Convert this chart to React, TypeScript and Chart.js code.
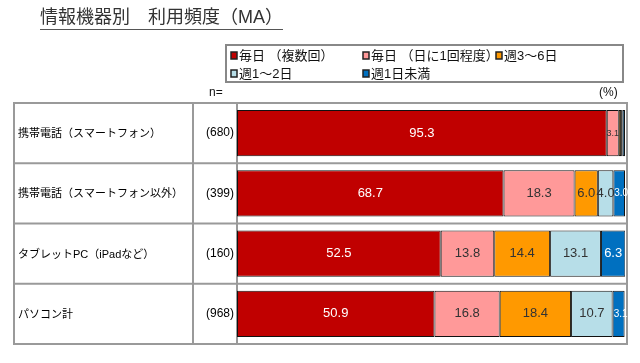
import React, { useEffect, useRef } from "react";
import { Chart, registerables } from "chart.js";

Chart.register(...registerables);

const titleText = "情報機器別　利用頻度（MA）";
const categories = [
  "携帯電話（スマートフォン）",
  "携帯電話（スマートフォン以外）",
  "タブレットPC（iPadなど）",
  "パソコン計",
];
const sampleSizes = ["(680)", "(399)", "(160)", "(968)"];
const seriesNames = ["毎日 （複数回）", "毎日 （日に1回程度）", "週3～6日", "週1～2日", "週1日未満"];
const dailyMulti = [95.3, 68.7, 52.5, 50.9];
const dailyOnce = [3.1, 18.3, 13.8, 16.8];
const week3to6 = [0.6, 6.0, 14.4, 18.4];
const week1to2 = [0.4, 4.0, 13.1, 10.7];
const lessWeekly = [0.6, 3.0, 6.3, 3.1];
const seriesColors = ["#C00000", "#FF9999", "#FF9900", "#B7DEE8", "#0070C0"];
const labelColors = ["#ffffff", "#333333", "#333333", "#333333", "#ffffff"];

const FONT = '"Liberation Sans", Arial, "Noto Sans CJK JP", sans-serif';
const GRAY = "#9a9a9a";

const overlayPlugin = {
  id: "overlay",
  beforeDatasetsDraw(chart: any) {
    const { ctx, chartArea, scales } = chart;
    const y = scales.y;
    ctx.save();
    const left = 14, col1 = 193, col2 = chartArea.left, right = 627;
    const top = chartArea.top, bottom = chartArea.bottom;
    ctx.strokeStyle = GRAY;
    ctx.lineWidth = 2;
    ctx.strokeRect(left, top, right - left, bottom - top);
    ctx.beginPath();
    ctx.moveTo(col1, top);
    ctx.lineTo(col1, bottom);
    ctx.moveTo(col2, top);
    ctx.lineTo(col2, bottom);
    const band = (bottom - top) / categories.length;
    for (let i = 1; i < categories.length; i++) {
      const yy = top + band * i;
      ctx.moveTo(left, yy);
      ctx.lineTo(right, yy);
    }
    ctx.stroke();
    ctx.fillStyle = "#000";
    ctx.textBaseline = "middle";
    categories.forEach((c, i) => {
      const cy = y.getPixelForValue(i);
      ctx.font = `11px ${FONT}`;
      ctx.textAlign = "left";
      ctx.fillText(c, 18, cy + 1);
      ctx.font = `12px ${FONT}`;
      ctx.textAlign = "right";
      ctx.fillText(sampleSizes[i], 234, cy);
    });
    ctx.restore();
  },
  afterDraw(chart: any) {
    const { ctx } = chart;
    ctx.save();
    ctx.font = `18px ${FONT}`;
    ctx.fillStyle = "#333";
    ctx.textBaseline = "middle";
    ctx.textAlign = "left";
    ctx.fillText(titleText, 40, 18);
    const tw = ctx.measureText(titleText).width;
    ctx.strokeStyle = "#555";
    ctx.lineWidth = 1;
    ctx.beginPath();
    ctx.moveTo(40, 29.5);
    ctx.lineTo(40 + tw, 29.5);
    ctx.stroke();
    ctx.strokeStyle = "#888";
    ctx.lineWidth = 2;
    ctx.strokeRect(226, 45, 397, 37);
    const pos = [
      [231, 56], [363, 56], [496, 56], [231, 74], [363, 74],
    ];
    ctx.font = `13px ${FONT}`;
    seriesNames.forEach((n, i) => {
      const [px, py] = pos[i];
      ctx.fillStyle = seriesColors[i];
      ctx.fillRect(px, py - 4, 6, 7);
      ctx.strokeStyle = "#222";
      ctx.lineWidth = 1.5;
      ctx.strokeRect(px, py - 4, 6, 7);
      ctx.fillStyle = "#111";
      ctx.fillText(n, px + 8, py);
    });
    ctx.font = `12px ${FONT}`;
    ctx.fillStyle = "#111";
    ctx.fillText("n=", 209, 93);
    ctx.fillText("(%)", 599, 93);
    chart.data.datasets.forEach((ds: any, di: number) => {
      const meta = chart.getDatasetMeta(di);
      meta.data.forEach((bar: any, i: number) => {
        const v = ds.data[i];
        if (v < 2) return;
        const w = Math.abs(bar.x - bar.base);
        const small = w < 15;
        ctx.font = `${small ? (di === 1 ? 9 : 10) : 13}px ${FONT}`;
        ctx.fillStyle = labelColors[di];
        ctx.textAlign = "center";
        ctx.textBaseline = "middle";
        ctx.fillText(v.toFixed(1), (bar.x + bar.base) / 2 + (small && di !== 1 ? 2 : 0), bar.y);
      });
    });
    ctx.restore();
  },
};

export default function App() {
  const ref = useRef<HTMLCanvasElement | null>(null);
  useEffect(() => {
    if (!ref.current) return;
    const series = [dailyMulti, dailyOnce, week3to6, week1to2, lessWeekly];
    const chart = new Chart(ref.current, {
      type: "bar",
      data: {
        labels: categories,
        datasets: series.map((d, i) => ({
          label: seriesNames[i],
          data: d,
          backgroundColor: seriesColors[i],
          borderColor: "#111",
          borderWidth: 1,
          borderSkipped: false,
          categoryPercentage: 1,
          barPercentage: 0.77,
        })),
      },
      options: {
        indexAxis: "y",
        animation: false,
        responsive: false,
        devicePixelRatio: 1,
        layout: { padding: { left: 237, right: 15, top: 103, bottom: 19 } },
        plugins: { legend: { display: false }, tooltip: { enabled: false }, title: { display: false } },
        scales: {
          x: { stacked: true, min: 0, max: 100, display: false },
          y: { stacked: true, display: false },
        },
      },
      plugins: [overlayPlugin],
    } as any);
    return () => chart.destroy();
  }, []);
  return (
    <div style={{ position: "fixed", left: 0, top: 0, width: 640, height: 363, background: "#fff" }}>
      <canvas ref={ref} width={640} height={363} style={{ width: 640, height: 363, display: "block" }} />
    </div>
  );
}
